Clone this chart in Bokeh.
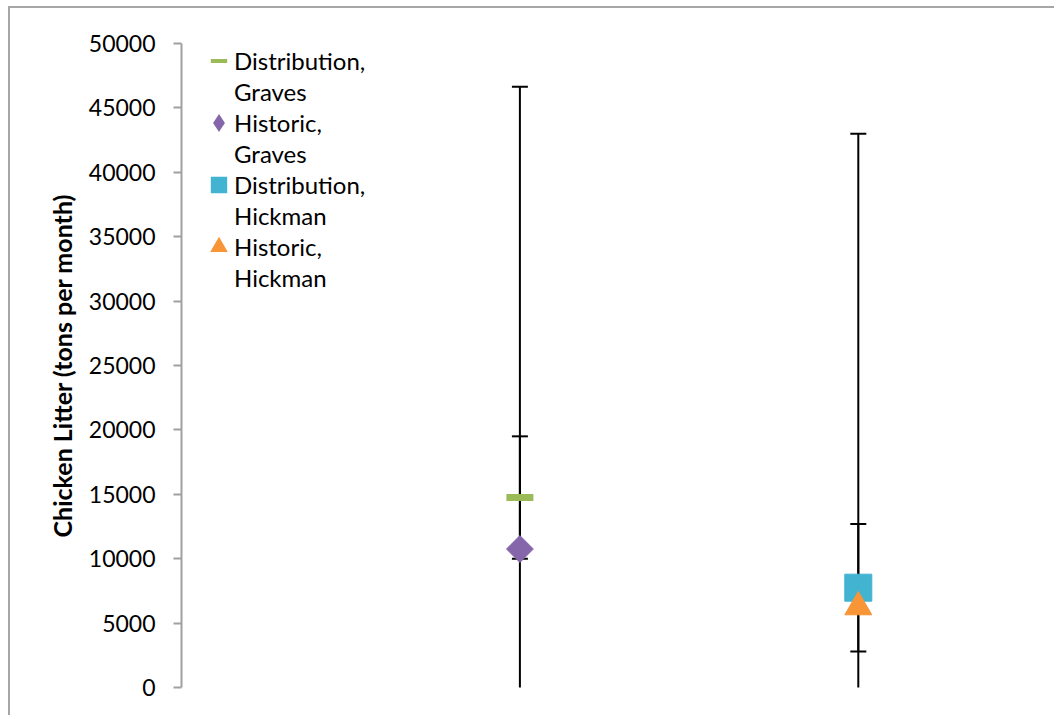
from bokeh.plotting import figure
from bokeh.models import (Range1d, FixedTicker, NumeralTickFormatter, ColumnDataSource,
                          Legend, LegendItem)
from bokeh.core.properties import value
from bokeh.embed import file_html
from bokeh.resources import INLINE

# --- data -------------------------------------------------------------
sites = ["Graves", "Hickman"]
site_pos = [1, 2]

series_names = ["Distribution, Graves", "Historic, Graves",
                "Distribution, Hickman", "Historic, Hickman"]
series_x = [1, 1, 2, 2]
series_y = [14750, 10750, 7750, 6250]
series_err = [4750, 35900, 4950, 36750]

y_ticks = [0, 5000, 10000, 15000, 20000, 25000, 30000, 35000, 40000, 45000, 50000]
y_label = "Chicken Litter (tons per month)"

# --- styles -----------------------------------------------------------
FONT = "Lato"
GREEN = "#9bbb59"
PURPLE = "#8566ab"
BLUE = "#42b3d1"
ORANGE = "#f79537"
AXIS_GREY = "#a0a0a0"
FRAME_GREY = "#a6a6a6"

p = figure(width=1046, height=709, output_backend="svg", toolbar_location=None,
           x_range=Range1d(0, 2.5), y_range=Range1d(0, 50000),
           min_border_left=171, min_border_right=29,
           min_border_top=35, min_border_bottom=30,
           background_fill_color="white", border_fill_color="white")
# chart-area frame: a grey rule along the left and top edges only
p.styles = {"margin-left": "10px", "margin-top": "8px", "vertical-align": "top",
            "box-shadow": f"-2px -2px 0 0 {FRAME_GREY}"}
p.outline_line_color = None
p.grid.visible = False
p.xaxis.visible = False

yax = p.yaxis[0]
yax.ticker = FixedTicker(ticks=y_ticks)
yax.formatter = NumeralTickFormatter(format="0")
yax.axis_line_color = AXIS_GREY
yax.axis_line_width = 2
yax.major_tick_line_color = AXIS_GREY
yax.major_tick_line_width = 2
yax.major_tick_out = 8
yax.major_tick_in = 0
yax.minor_tick_line_color = None
yax.major_label_text_font = FONT
yax.major_label_text_font_size = "23px"
yax.major_label_text_color = "black"
yax.major_label_standoff = 18
yax.axis_label = y_label
yax.axis_label_text_font = FONT
yax.axis_label_text_font_style = "bold"
yax.axis_label_text_font_size = "25px"
yax.axis_label_text_color = "black"
yax.axis_label_standoff = 9

# --- error bars ---------------------------------------------------------
lo = [v - e for v, e in zip(series_y, series_err)]
hi = [v + e for v, e in zip(series_y, series_err)]
err_src = ColumnDataSource(dict(x=series_x, lo=lo, hi=hi))
p.segment(x0="x", y0="lo", x1="x", y1="hi", source=err_src,
          line_color="black", line_width=2)
p.scatter(x="x", y="lo", source=err_src, marker="dash", size=16,
          line_color="black", line_width=2)
p.scatter(x="x", y="hi", source=err_src, marker="dash", size=16,
          line_color="black", line_width=2)

# --- markers ------------------------------------------------------------
p.scatter(x=[series_x[0]], y=[series_y[0]], marker="dash", size=27,
          line_color=GREEN, line_width=7)
p.scatter(x=[series_x[1]], y=[series_y[1]], marker="square", size=19, angle=0.785398,
          fill_color=PURPLE, line_color=PURPLE, line_width=1)
p.scatter(x=[series_x[2]], y=[series_y[2]], marker="square", size=27,
          fill_color=BLUE, line_color=BLUE, line_width=1)
p.scatter(x=[series_x[3]], y=[series_y[3]], marker="triangle", size=27,
          fill_color=ORANGE, line_color=ORANGE, line_width=1)

# --- legend swatches (hidden renderers, drawn only inside the legend) -----
def swatch(i, **kw):
    r = p.scatter(x=[series_x[i]], y=[series_y[i]], line_join="miter", **kw)
    r.visible = False
    return r

swatches = [
    swatch(0, marker="dash", line_color=GREEN, line_width=4, line_cap="square"),
    swatch(1, marker="diamond", fill_color=PURPLE, line_color=PURPLE, line_width=3),
    swatch(2, marker="square", fill_color=BLUE, line_color=BLUE, line_width=4),
    swatch(3, marker="triangle", fill_color=ORANGE, line_color=ORANGE, line_width=3),
]

items = []
for name, sw in zip(series_names, swatches):
    first, second = name.split(" ")
    items.append(LegendItem(label=value(first), renderers=[sw]))
    items.append(LegendItem(label=value(second), renderers=[]))

legend = Legend(items=items, location=(22, 394), orientation="vertical",
                glyph_width=31, glyph_height=31, spacing=0, label_standoff=0,
                padding=0, margin=0, border_line_color=None, background_fill_alpha=0,
                label_text_font=FONT, label_text_font_size="24px",
                label_text_color="black", label_height=20)
p.add_layout(legend)

open("out.html", "w").write(file_html(p, INLINE))
